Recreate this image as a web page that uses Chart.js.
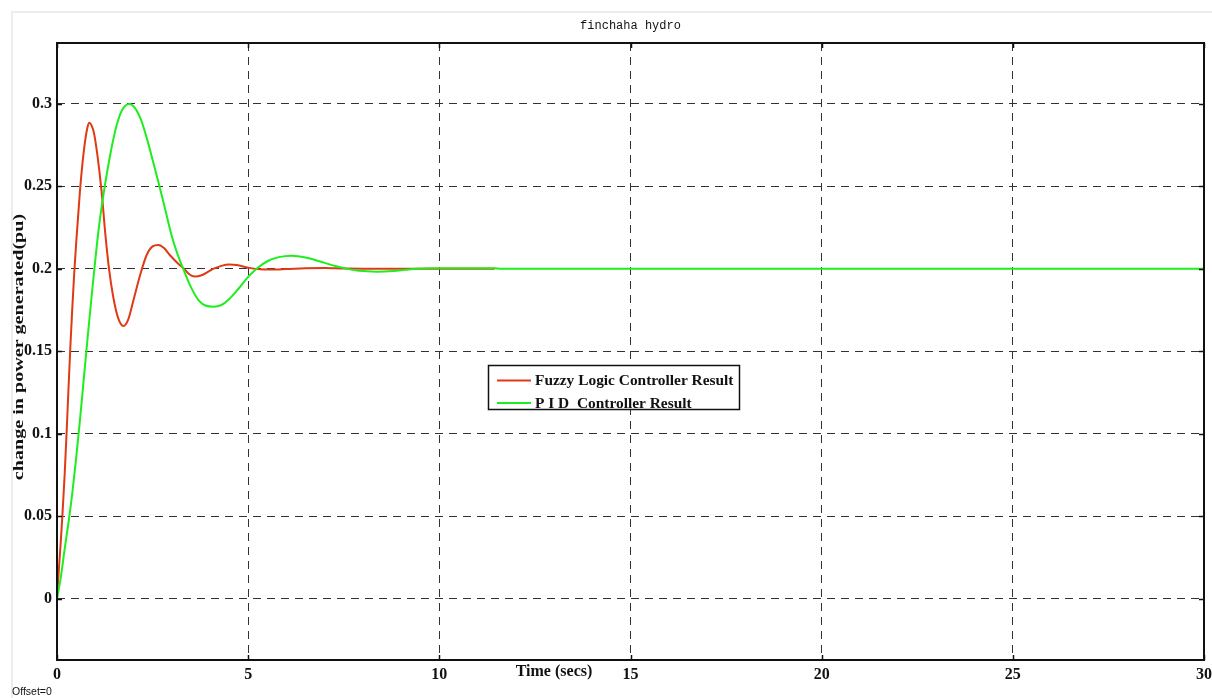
<!DOCTYPE html>
<html>
<head>
<meta charset="utf-8">
<title>finchaha hydro</title>
<script src="https://cdn.jsdelivr.net/npm/chart.js@4.4.1/dist/chart.umd.min.js"></script>
<style>
  html, body { margin: 0; padding: 0; background: #fff; }
  canvas { display: block; }
</style>
</head>
<body>
<canvas id="scope" width="1212" height="698"></canvas>
<script>
// Fuzzy logic controller response (ends where the scope trace stops)
const fuzzyTime = [0, 0.05, 0.1, 0.14, 0.2, 0.25, 0.3, 0.35, 0.4, 0.45, 0.5, 0.6, 0.7, 0.8, 0.85, 0.9, 0.96, 1.05, 1.17, 1.26, 1.36, 1.47, 1.6, 1.735, 1.86, 1.99, 2.16, 2.34, 2.5, 2.65, 2.8, 2.95, 3.15, 3.32, 3.45, 3.6, 3.8, 4.0, 4.1, 4.3, 4.5, 4.7, 5.0, 5.3, 5.6, 6.0, 6.5, 7.0, 7.5, 8.0, 9.0, 10.0, 11.45];
const fuzzyValue = [0, 0.018, 0.035, 0.05, 0.075, 0.1, 0.127, 0.153, 0.176, 0.197, 0.215, 0.247, 0.271, 0.286, 0.2885, 0.287, 0.283, 0.27, 0.246, 0.222, 0.2, 0.183, 0.17, 0.1653, 0.169, 0.18, 0.195, 0.208, 0.2135, 0.2144, 0.2125, 0.2083, 0.2035, 0.2, 0.1968, 0.1952, 0.1962, 0.1988, 0.2, 0.2017, 0.2025, 0.2022, 0.2006, 0.1996, 0.1995, 0.1998, 0.2003, 0.2004, 0.2001, 0.2, 0.2, 0.2, 0.2];

// PID controller response
const pidTime = [0, 0.1, 0.2, 0.3, 0.4, 0.5, 0.6, 0.7, 0.8, 0.9, 1.0, 1.1, 1.25, 1.4, 1.55, 1.7, 1.89, 2.05, 2.2, 2.35, 2.5, 2.68, 2.85, 3.0, 3.15, 3.3, 3.5, 3.7, 3.9, 4.09, 4.3, 4.5, 4.75, 5.0, 5.22, 5.5, 5.8, 6.14, 6.5, 7.0, 7.3, 7.58, 7.9, 8.36, 8.8, 9.1, 9.4, 9.8, 11.45, 11.6, 30];
const pidValue = [0, 0.013, 0.03, 0.046, 0.064, 0.085, 0.108, 0.133, 0.158, 0.182, 0.205, 0.226, 0.25, 0.27, 0.286, 0.296, 0.2998, 0.297, 0.29, 0.279, 0.266, 0.25, 0.234, 0.22, 0.209, 0.2, 0.189, 0.181, 0.1775, 0.177, 0.178, 0.1815, 0.188, 0.195, 0.2, 0.2045, 0.207, 0.2079, 0.2068, 0.2035, 0.2015, 0.2, 0.1987, 0.1982, 0.1986, 0.1993, 0.2, 0.2003, 0.2003, 0.2, 0.2];

const xTicks = [0, 5, 10, 15, 20, 25, 30];
const yTicks = [0, 0.05, 0.1, 0.15, 0.2, 0.25, 0.3];

const toPoints = (xs, ys) => xs.map((x, i) => ({ x: x, y: ys[i] }));

const serif = '"Liberation Serif", "Times New Roman", serif';

// axes box, inward tick marks, titles and the legend, scope-style
const scopeDecor = {
  id: 'scopeDecor',
  beforeDraw(chart) {
    const ctx = chart.ctx;
    ctx.save();
    ctx.fillStyle = '#fff';
    ctx.fillRect(0, 0, chart.width, chart.height);
    ctx.strokeStyle = '#ececec';
    ctx.lineWidth = 2;
    ctx.beginPath();
    ctx.moveTo(12, chart.height);
    ctx.lineTo(12, 12);
    ctx.lineTo(chart.width, 12);
    ctx.stroke();
    ctx.restore();
  },
  afterDraw(chart) {
    const ctx = chart.ctx;
    const a = chart.chartArea;
    const xs = chart.scales.x;
    const ys = chart.scales.y;
    ctx.save();

    // axes box
    ctx.strokeStyle = '#111';
    ctx.lineWidth = 2;
    ctx.strokeRect(a.left, a.top, a.right - a.left, a.bottom - a.top);

    // small inward ticks
    ctx.lineWidth = 1.5;
    ctx.beginPath();
    xTicks.forEach((t) => {
      const px = Math.round(xs.getPixelForValue(t)) + 0.5;
      ctx.moveTo(px, a.bottom); ctx.lineTo(px, a.bottom - 5);
      ctx.moveTo(px, a.top); ctx.lineTo(px, a.top + 5);
    });
    yTicks.forEach((t) => {
      const py = Math.round(ys.getPixelForValue(t)) + 0.5;
      ctx.moveTo(a.left, py); ctx.lineTo(a.left + 5, py);
      ctx.moveTo(a.right, py); ctx.lineTo(a.right - 5, py);
    });
    ctx.stroke();

    // title
    ctx.fillStyle = '#111';
    ctx.font = '12px "Liberation Mono", "Courier New", monospace';
    ctx.textAlign = 'center';
    ctx.textBaseline = 'middle';
    ctx.fillText('finchaha hydro', (a.left + a.right) / 2, 26);

    // axis labels
    ctx.font = 'bold 16px ' + serif;
    ctx.fillText('Time (secs)', 554, 672);
    ctx.save();
    ctx.translate(19, 347);
    ctx.rotate(-Math.PI / 2);
    ctx.scale(1.34, 1);
    ctx.font = 'bold 15px ' + serif;
    ctx.fillText('change in power generated(pu)', 0, 0);
    ctx.restore();

    ctx.font = '10.5px "Liberation Sans", Arial, sans-serif';
    ctx.textAlign = 'left';
    ctx.fillText('Offset=0', 12, 692);

    // legend
    const lx = 488.5, ly = 365.5, lw = 251, lh = 44;
    ctx.fillStyle = '#fff';
    ctx.fillRect(lx, ly, lw, lh);
    ctx.strokeStyle = '#111';
    ctx.lineWidth = 1.5;
    ctx.strokeRect(lx, ly, lw, lh);
    const rows = [chart.data.datasets[0], chart.data.datasets[1]];
    ctx.font = 'bold 15.4px ' + serif;
    rows.forEach((ds, i) => {
      const y = 380.5 + i * 22.5;
      ctx.strokeStyle = ds.borderColor;
      ctx.lineWidth = 2;
      ctx.beginPath();
      ctx.moveTo(497, y);
      ctx.lineTo(531, y);
      ctx.stroke();
      ctx.fillStyle = '#111';
      ctx.fillText(ds.label, 535, y + 1);
    });

    ctx.restore();
  }
};

new Chart(document.getElementById('scope'), {
  type: 'scatter',
  data: {
    datasets: [
      {
        label: 'Fuzzy Logic Controller Result',
        data: toPoints(fuzzyTime, fuzzyValue),
        borderColor: '#e03a14',
        backgroundColor: '#e03a14',
        borderWidth: 2,
        showLine: true,
        pointRadius: 0,
        cubicInterpolationMode: 'monotone',
        order: 2
      },
      {
        label: 'P I D  Controller Result',
        data: toPoints(pidTime, pidValue),
        borderColor: '#1eee1e',
        backgroundColor: '#1eee1e',
        borderWidth: 2,
        showLine: true,
        pointRadius: 0,
        cubicInterpolationMode: 'monotone',
        order: 1
      }
    ]
  },
  options: {
    responsive: false,
    animation: false,
    devicePixelRatio: 1,
    layout: { padding: { top: 43, right: 8, left: 0, bottom: 0 } },
    plugins: {
      legend: { display: false },
      tooltip: { enabled: false },
      title: { display: false }
    },
    scales: {
      x: {
        type: 'linear',
        min: 0,
        max: 30,
        afterBuildTicks: (s) => { s.ticks = xTicks.map((v) => ({ value: v })); },
        afterFit: (s) => { s.height = 38; s.paddingLeft = 0; s.paddingRight = 0; },
        grid: { color: '#333', lineWidth: 1, drawTicks: false },
        border: { display: false, dash: [8, 6] },
        ticks: {
          padding: 5,
          color: '#111',
          font: { family: serif, size: 16, weight: 'bold' },
          callback: (v) => String(v)
        }
      },
      y: {
        type: 'linear',
        min: -0.0372,
        max: 0.3368,
        afterBuildTicks: (s) => { s.ticks = yTicks.map((v) => ({ value: v })); },
        afterFit: (s) => { s.width = 57; s.paddingTop = 0; s.paddingBottom = 0; },
        grid: { color: '#333', lineWidth: 1, drawTicks: false },
        border: { display: false, dash: [8, 6] },
        ticks: {
          padding: 5,
          color: '#111',
          font: { family: serif, size: 16, weight: 'bold' },
          callback: (v) => String(+v.toFixed(2))
        }
      }
    }
  },
  plugins: [scopeDecor]
});
</script>
</body>
</html>
